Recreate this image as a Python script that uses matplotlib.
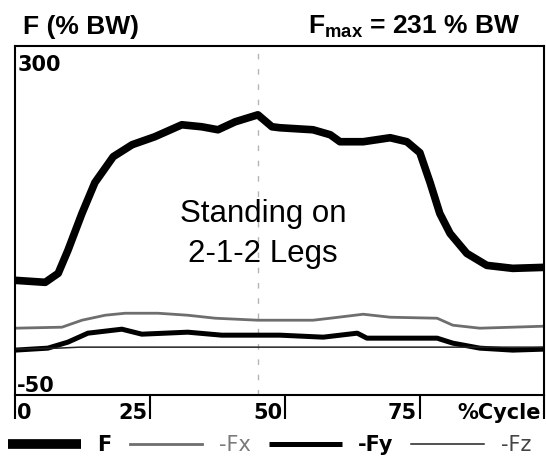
import matplotlib
matplotlib.use("Agg")
import matplotlib.pyplot as plt

# --- data (x in % of cycle, y in % body weight) ---
f_x = [0, 5.6, 8.0, 9.8, 12.4, 14.8, 18.2, 21.7, 25.9, 30.9, 34.6, 37.6, 40.8,
       45.0, 47.6, 49.1, 55.2, 58.4, 60.2, 64.5, 69.5, 72.6, 75.0, 76.9, 78.7,
       80.6, 83.7, 87.4, 92.2, 98]
f_val = [65, 63, 72, 95, 132, 163, 189, 201, 209, 221, 219, 216, 224,
         231, 219, 218, 216, 211, 204, 204, 208, 204, 193, 163, 132,
         112, 92, 80, 77, 78]

fx_x = [0, 8.7, 12.4, 16.7, 20.4, 26.5, 32.0, 37.1, 45.0, 49.1, 55.2, 58.4,
        64.5, 69.5, 78.2, 81.1, 86.1, 92.2, 98]
fx_val = [17, 18, 25, 30, 32, 32, 30, 27, 25, 25, 25, 27,
          31, 28, 27, 20, 17, 18, 19]

fy_x = [0, 6.1, 9.8, 13.5, 19.8, 23.5, 27.8, 32.0, 38.3, 45.0, 49.1, 57.1,
        63.4, 65.2, 78.2, 81.1, 86.1, 92.2, 98]
fy_val = [-5, -3, 3, 12, 16, 11, 12, 13, 10, 10, 10, 8,
          12, 7, 7, 2, -3, -5, -4]

fz_x = [0, 8, 12, 50, 98]
fz_val = [-4, -3, -2, -2, -2]

fmax_pos = 45.0
xtick_labels = ["0", "25", "50", "75", "%Cycle"]
xtick_vals = [0, 25, 50, 75, 98]
legend_labels = ["F", "-Fx", "-Fy", "-Fz"]

# --- figure ---
plt.rcParams["mathtext.fontset"] = "custom"
plt.rcParams["mathtext.rm"] = "Liberation Sans"
plt.rcParams["mathtext.bf"] = "Liberation Sans:bold"

W, H = 546, 457
fig = plt.figure(figsize=(W / 100, H / 100), dpi=100)
ax = fig.add_axes([15 / W, 1 - 395 / H, 529 / W, 349 / H])

line_f, = ax.plot(f_x, f_val, color="black", lw=5.5, solid_capstyle="butt",
                  solid_joinstyle="round")
line_fx, = ax.plot(fx_x, fx_val, color="#6e6e6e", lw=2.0)
line_fy, = ax.plot(fy_x, fy_val, color="black", lw=3.6, solid_capstyle="butt")
line_fz, = ax.plot(fz_x, fz_val, color="#222222", lw=1.1)

ax.axvline(fmax_pos, color="#b5b5b5", lw=1.0, ls=(0, (4, 7)), zorder=0)

ax.set_xlim(0, 98)
ax.set_ylim(-50, 300)
ax.set_yticks([])
ax.set_xticks(xtick_vals)
ax.tick_params(axis="x", direction="out", length=17, width=1.5,
               labelbottom=False, color="black")
for sp in ax.spines.values():
    sp.set_linewidth(1.5)
    sp.set_color("black")

# axis labels drawn like the instrument screen
lab_font = dict(family="DejaVu Sans", weight="bold", fontsize=15)
ax.text(0.004, 0.975, "300", transform=ax.transAxes, ha="left", va="top",
        **lab_font)
ax.text(0.004, 0.01, "-50", transform=ax.transAxes, ha="left",
        va="baseline", **lab_font)

bt = ax.get_xaxis_transform()
for i, (lab, v) in enumerate(zip(xtick_labels, xtick_vals)):
    if i == 0:
        ax.text(v + 0.4, -0.068, lab, transform=bt, ha="left", va="baseline",
                **lab_font)
    else:
        ax.text(v - 0.5, -0.068, lab, transform=bt, ha="right",
                va="baseline", **lab_font)

# centre annotation
ax.text(45.9, 123, "Standing on", ha="center", va="baseline",
        family="Liberation Sans", fontsize=22.5)
ax.text(45.9, 83, "2-1-2 Legs", ha="center", va="baseline",
        family="Liberation Sans", fontsize=22.5)

# titles
fig.text(23 / W, 1 - 34 / H, "F (% BW)", family="Liberation Sans",
         weight="bold", fontsize=19, va="baseline")
fig.text(308 / W, 1 - 34 / H, r"$\mathbf{F}_{\mathbf{max}}$ = 231 % BW",
         family="Liberation Sans", weight="bold", fontsize=19, va="baseline")

# legend row
leg = fig.legend([line_f, line_fx, line_fy, line_fz], legend_labels,
                 loc="center left", bbox_to_anchor=(8 / W, 1 - 445 / H),
                 ncol=4, frameon=False, handlelength=3.5, handletextpad=0.8,
                 columnspacing=0.85, borderaxespad=0, borderpad=0,
                 prop=dict(family="DejaVu Sans", size=15))
leg_colors = ["black", "#7a7a7a", "black", "#444444"]
leg_weights = ["bold", "normal", "bold", "normal"]
for t, c, w in zip(leg.get_texts(), leg_colors, leg_weights):
    t.set_color(c)
    t.set_fontweight(w)
leg.legend_handles[0].set_linewidth(7)

fig.savefig("out.png", dpi=100)
